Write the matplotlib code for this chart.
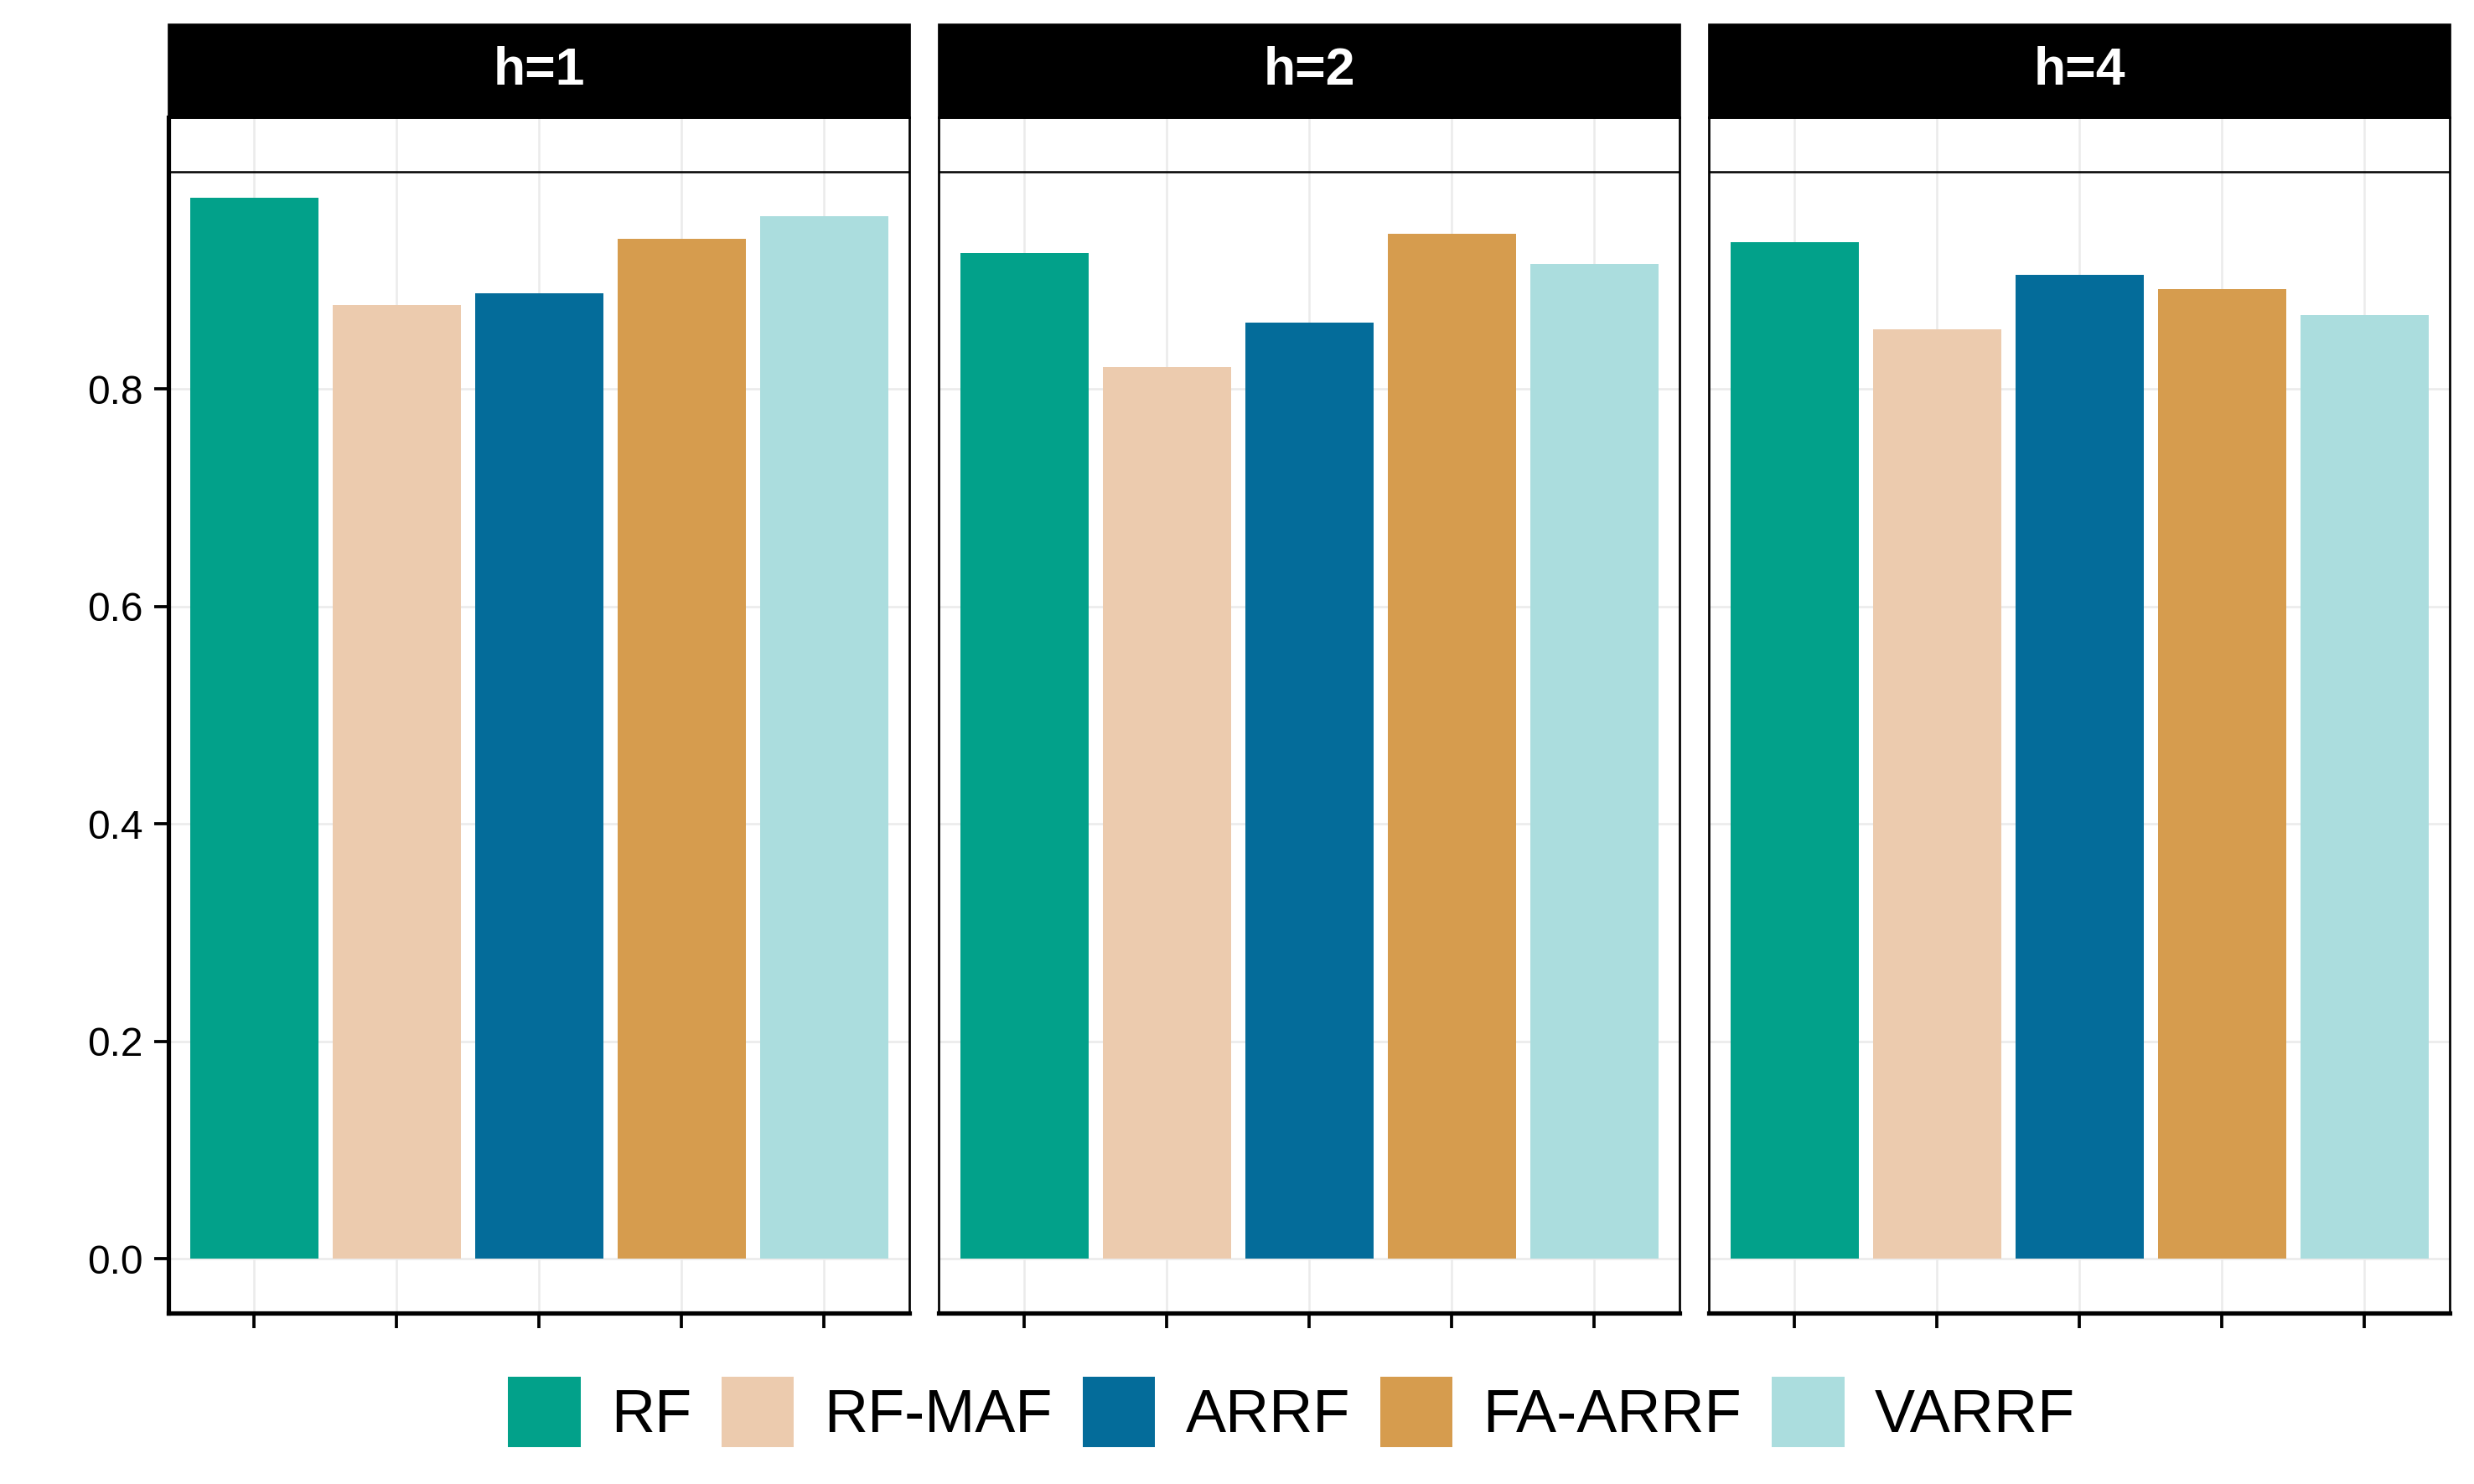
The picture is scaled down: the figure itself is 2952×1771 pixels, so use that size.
import matplotlib
matplotlib.use("Agg")
import matplotlib.pyplot as plt
from matplotlib.patches import Patch, Rectangle

plt.rcParams["font.family"] = ["Liberation Sans", "DejaVu Sans"]

# data
horizons = ["h=1", "h=2", "h=4"]
models = ["RF", "RF-MAF", "ARRF", "FA-ARRF", "VARRF"]
values_h1 = [0.976, 0.877, 0.888, 0.938, 0.959]
values_h2 = [0.925, 0.820, 0.861, 0.943, 0.915]
values_h4 = [0.935, 0.855, 0.905, 0.892, 0.868]
y_ticks = [0.0, 0.2, 0.4, 0.6, 0.8]
ref_line = 1.0

colors = ["#02A18A", "#ECCBAE", "#046C9A", "#D69C4E", "#ABDDDE"]

W, H = 2952, 1771
DPI = 300


def main():
    fig = plt.figure(figsize=(W / DPI, H / DPI), dpi=DPI)

    all_values = [values_h1, values_h2, values_h4]
    left0, pw, gap = 201, 884, 35
    top, bottom = 140, 1567
    strip_top = 29
    x = list(range(1, len(models) + 1))

    for i, (label, vals) in enumerate(zip(horizons, all_values)):
        left = left0 + i * (pw + gap)
        ax = fig.add_axes([left / W, 1 - bottom / H, pw / W, (bottom - top) / H])
        ax.bar(x, vals, width=0.9, color=colors, zorder=2)
        ax.axhline(ref_line, color="black", linewidth=0.6, zorder=3)
        ax.set_xlim(0.4, 5.6)
        ax.set_ylim(-0.05, 1.05)
        ax.set_xticks(x)
        ax.set_xticklabels([])
        ax.set_yticks(y_ticks)
        ax.grid(True, color="#EBEBEB", linewidth=0.6, zorder=0)
        ax.set_axisbelow(True)
        for s in ax.spines.values():
            s.set_linewidth(0.65)
            s.set_color("black")
        ax.spines["bottom"].set_linewidth(1.25)
        ax.tick_params(axis="x", length=4.2, width=0.9, color="black")
        if i == 0:
            ax.spines["left"].set_linewidth(1.25)
            ax.set_yticklabels([f"{v:.1f}" for v in y_ticks])
            ax.tick_params(axis="y", length=4, width=0.9, pad=3.2,
                           labelsize=11.5, color="black")
        else:
            ax.set_yticklabels([])
            ax.tick_params(axis="y", length=0)

        # facet strip
        sx = left / W
        sy = 1 - top / H
        sh = (top - strip_top) / H
        fig.patches.append(Rectangle((sx, sy), pw / W, sh, transform=fig.transFigure,
                                     facecolor="black", edgecolor="black",
                                     linewidth=0.65, zorder=1))
        fig.text(sx + pw / W / 2, sy + sh / 2, label, ha="center", va="center",
                 color="white", fontsize=15, fontweight="bold")

    handles = [Patch(facecolor=c, edgecolor="none") for c in colors]
    fig.legend(handles, models, loc="center", bbox_to_anchor=(0.522, 0.0486),
               ncol=len(models), frameon=False, fontsize=17.3,
               handlelength=1.2, handleheight=1.4, handletextpad=0.5,
               columnspacing=0.5, borderaxespad=0)

    fig.savefig("out.png", dpi=DPI)


if __name__ == "__main__":
    main()
